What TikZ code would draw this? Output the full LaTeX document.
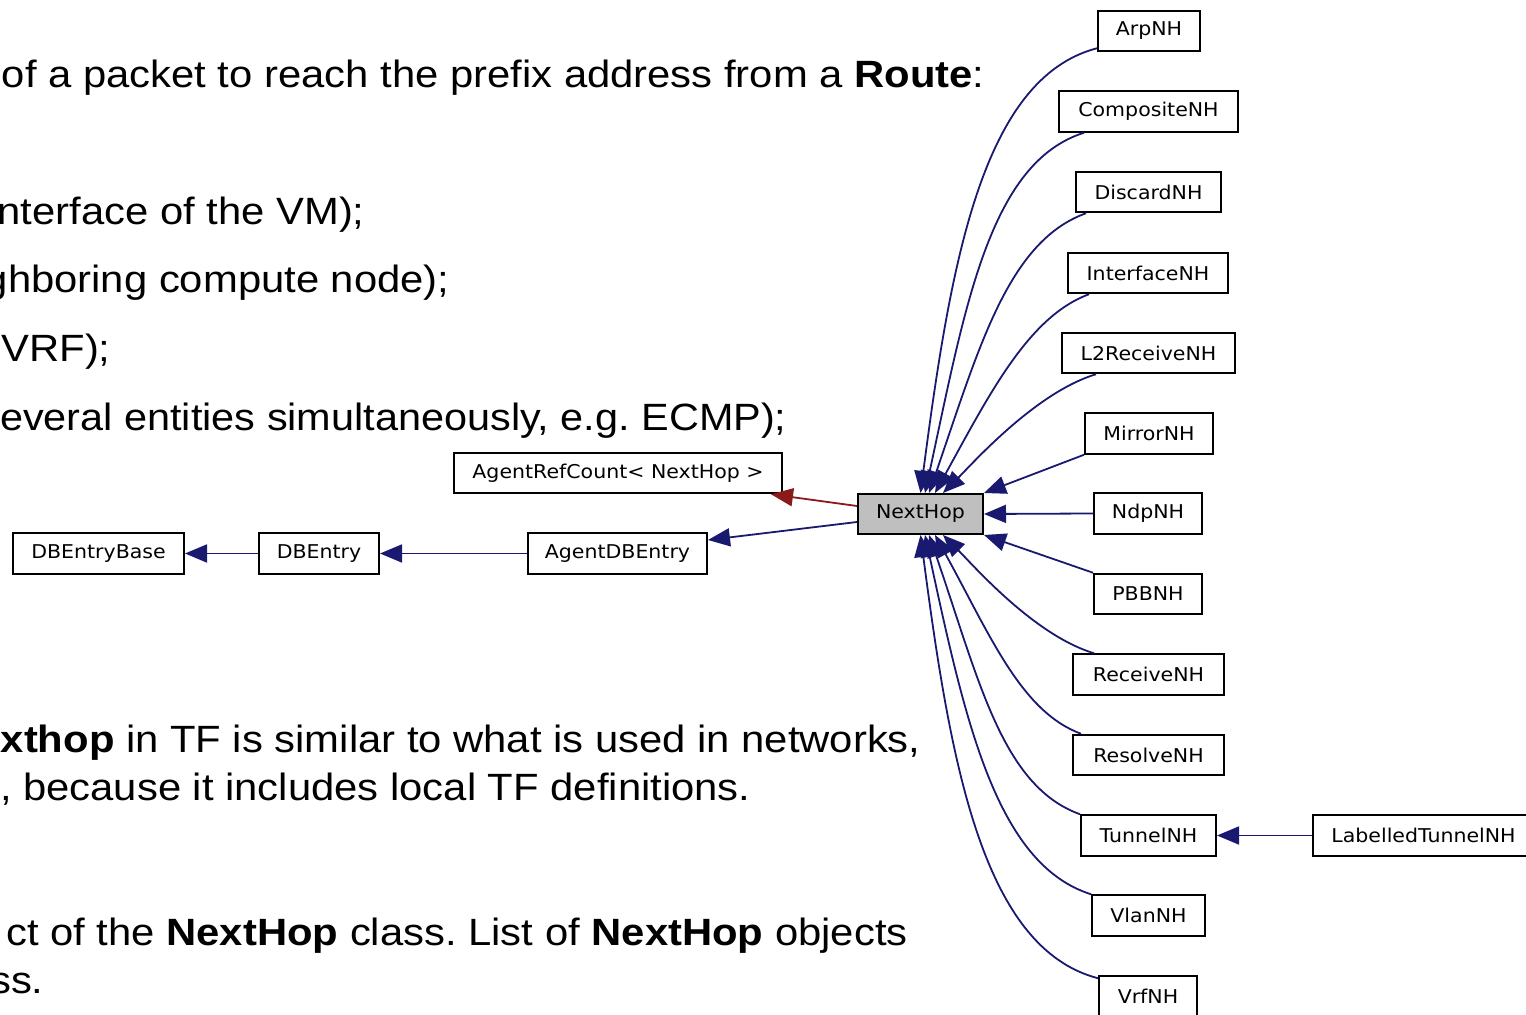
\documentclass[tikz,border=0pt]{standalone}
\usepackage{fontspec}
\setmainfont{Liberation Sans}
\newfontfamily\dotfont{DejaVu Sans}
\usetikzlibrary{arrows.meta}
\definecolor{inhcol}{HTML}{191970}
\definecolor{privcol}{HTML}{8B1A1A}
\definecolor{nodegrey}{HTML}{BFBFBF}
\newcommand\stretchx[1]{\scalebox{1.08}[1]{#1}}
\newcommand\slidex[1]{\scalebox{1.1}[1]{#1}}
\frenchspacing

\begin{document}
\begin{tikzpicture}[x=0.5pt,y=-0.5pt,
  cls/.style={draw=black, line width=1pt, fill=white, inner sep=0pt,
    minimum height=20.25pt, minimum width=#1,
    font=\dotfont\fontsize{9.5pt}{11pt}\selectfont},
  inhline/.style={draw=inhcol, line width=0.9pt,
    -{Triangle[length=11pt,width=9pt]}},
  privline/.style={draw=privcol, line width=0.9pt,
    -{Triangle[length=11pt,width=9pt]}},
  slide/.style={inner sep=0pt, anchor=base east,
    font=\fontsize{19pt}{22pt}\selectfont}
]
\useasboundingbox (0,0) rectangle (1526,1015);
\clip (0,0) rectangle (1526,1015);
\fill[white] (0,0) rectangle (1526,1015);

% slide text
\node[slide] (t1) at (985,88) {\slidex{of a packet to reach the prefix address from a \textbf{Route}:}};
\node[slide] (t2) at (365,225) {\slidex{nterface of the VM);}};
\node[slide] (t3) at (450,293) {\slidex{ghboring compute node);}};
\node[slide] (t4) at (111,362) {\slidex{VRF);}};
\node[slide] (t5) at (787,431) {\scalebox{1.09}[1]{everal entities simultaneously, e.g. ECMP);}};
\node[slide] (t6) at (921,752) {\slidex{\textbf{xthop} in TF is similar to what is used in networks,}};
\node[slide] (t7) at (751,800) {\slidex{, because it includes local TF definitions.}};
\node[slide] (t8) at (908,945) {\slidex{ct of the \textbf{NextHop} class. List of \textbf{NextHop} objects}};
\node[slide] (t9) at (44,993) {\slidex{ss.}};

% class boxes
\node[cls=51pt]   (arp)  at (1149,31)     {\stretchx{ArpNH}};
\node[cls=89.5pt] (comp) at (1148.5,111.5) {\stretchx{CompositeNH}};
\node[cls=72.5pt] (disc) at (1148.5,192)  {\stretchx{DiscardNH}};
\node[cls=80pt]   (intf) at (1148,273)    {\stretchx{InterfaceNH}};
\node[cls=86.5pt] (l2r)  at (1148.5,353)  {\stretchx{L2ReceiveNH}};
\node[cls=64pt]   (mir)  at (1149,433.5)  {\stretchx{MirrorNH}};
\node[cls=54pt]   (ndp)  at (1148,513.5)  {\stretchx{NdpNH}};
\node[cls=54pt]   (pbb)  at (1148,594)    {\stretchx{PBBNH}};
\node[cls=75.5pt] (recv) at (1148.5,674.5) {\stretchx{ReceiveNH}};
\node[cls=75.5pt] (resv) at (1148.5,755)  {\stretchx{ResolveNH}};
\node[cls=67.5pt] (tun)  at (1148.5,835.5) {\stretchx{TunnelNH}};
\node[cls=56.5pt] (vlan) at (1148.5,915.5) {\stretchx{VlanNH}};
\node[cls=49pt]   (vrf)  at (1148,996.5)  {\stretchx{VrfNH}};
\node[cls=110.5pt] (ltn) at (1423.5,835.5) {\stretchx{LabelledTunnelNH}};
\node[cls=62.5pt, fill=nodegrey, minimum height=20pt] (nh) at (920.5,514) {\stretchx{NextHop}};
\node[cls=164pt]  (arc)  at (618,473)     {\stretchx{AgentRefCount< NextHop >}};
\node[cls=89.5pt] (adbe) at (617.5,553.5) {\stretchx{AgentDBEntry}};
\node[cls=60pt]   (dbe)  at (319,553.5)   {\stretchx{DBEntry}};
\node[cls=85.5pt] (dbeb) at (98.5,553.5)  {\stretchx{DBEntryBase}};

% inheritance towards the base classes
\draw[privline] ([yshift=4pt]nh.west) -- ([xshift=-6pt]arc.south east);
\draw[inhline] ([yshift=-4pt]nh.west) -- ([yshift=6.75pt]adbe.east);
\draw[inhline] (adbe.west) -- (dbe.east);
\draw[inhline] (dbe.west) -- (dbeb.east);
\draw[inhline] (ltn.west) -- (tun.east);

% derived next-hop classes above NextHop
\draw[inhline] ([yshift=2pt]arp.south west) .. controls +(-115,30) and +(30,-230) .. (nh.north);
\draw[inhline] ([xshift=13pt]comp.south west) .. controls +(-95,30) and +(40,-185) .. ([xshift=2.25pt]nh.north);
\draw[inhline] ([xshift=5.5pt]disc.south west) .. controls +(-78,28) and +(50,-145) .. ([xshift=4.25pt]nh.north);
\draw[inhline] ([xshift=11pt]intf.south west) .. controls +(-60,22) and +(55,-100) .. ([xshift=7.25pt]nh.north);
\draw[inhline] ([xshift=17.5pt]l2r.south west) .. controls +(-60,18) and +(30,-30) .. ([xshift=11.25pt]nh.north);
\draw[inhline] (mir.south west) -- (nh.north east);
% beside NextHop
\draw[inhline] (ndp.west) -- (nh.east);
\draw[inhline] (pbb.north west) -- (nh.south east);
% below NextHop
\draw[inhline] ([xshift=11pt]recv.north west) .. controls +(-60,-18) and +(30,30) .. ([xshift=11.25pt]nh.south);
\draw[inhline] ([xshift=4.5pt]resv.north west) .. controls +(-60,-22) and +(55,100) .. ([xshift=7.25pt]nh.south);
\draw[inhline] (tun.north west) .. controls +(-78,-28) and +(50,145) .. ([xshift=4.25pt]nh.south);
\draw[inhline] (vlan.north west) .. controls +(-95,-30) and +(40,185) .. ([xshift=2.25pt]nh.south);
\draw[inhline] ([yshift=-1.5pt]vrf.north west) .. controls +(-115,-30) and +(30,230) .. (nh.south);
\end{tikzpicture}
\end{document}
